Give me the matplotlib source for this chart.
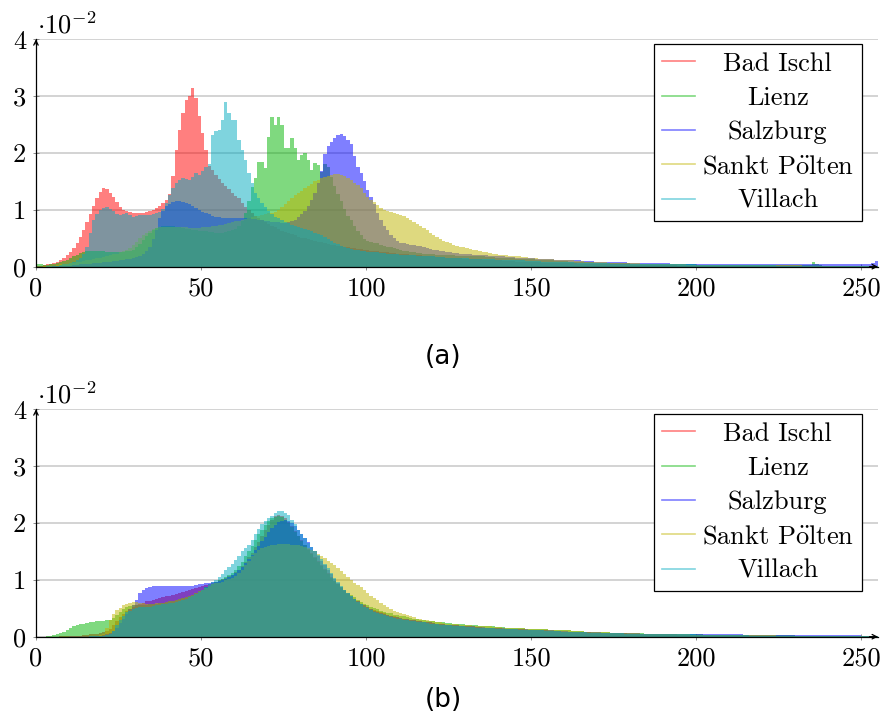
import numpy as np
import matplotlib.pyplot as plt
from matplotlib.lines import Line2D

plt.rcParams['font.family'] = ['cmr10', 'DejaVu Serif']
plt.rcParams['mathtext.fontset'] = 'cm'
plt.rcParams['axes.formatter.use_mathtext'] = True

# legend names, colours (drawn with 50 % opacity)
cities = ["Bad Ischl", "Lienz", "Salzburg", r"Sankt P$\ddot{\mathrm{o}}$lten", "Villach"]
colors = ["#ff0000", "#00b400", "#0000ff", "#bfb400", "#00aabf"]

# grey value histograms, 256 bins (0..255), in units of 1e-2
# (a) original images
bad_ischl_a = [
    0.02, 0.02, 0.03, 0.04, 0.05, 0.07, 0.09, 0.12, 0.16, 0.21, 0.26, 0.33, 0.42, 0.52, 0.65, 0.78,
    0.92, 1.06, 1.20, 1.32, 1.38, 1.36, 1.30, 1.23, 1.14, 1.05, 1.00, 0.98, 0.97, 0.95, 0.94, 0.94,
    0.95, 0.96, 0.98, 1.00, 1.03, 1.07, 1.12, 1.18, 1.28, 1.60, 2.05, 2.40, 2.70, 2.94, 3.00, 3.14,
    2.97, 2.65, 2.35, 2.05, 1.78, 1.70, 1.62, 1.55, 1.48, 1.42, 1.36, 1.30, 1.25, 1.20, 1.12, 1.05,
    1.00, 0.95, 0.90, 0.86, 0.82, 0.78, 0.75, 0.72, 0.69, 0.66, 0.63, 0.61, 0.59, 0.57, 0.55, 0.53,
    0.51, 0.50, 0.48, 0.47, 0.45, 0.44, 0.43, 0.41, 0.40, 0.39, 0.38, 0.37, 0.36, 0.35, 0.34, 0.33,
    0.32, 0.31, 0.31, 0.30, 0.29, 0.28, 0.28, 0.27, 0.26, 0.26, 0.25, 0.24, 0.24, 0.23, 0.23, 0.22,
    0.22, 0.21, 0.21, 0.20, 0.20, 0.19, 0.19, 0.18, 0.18, 0.17, 0.17, 0.17, 0.16, 0.16, 0.15, 0.15,
    0.15, 0.14, 0.14, 0.14, 0.13, 0.13, 0.13, 0.12, 0.12, 0.12, 0.11, 0.11, 0.11, 0.10, 0.10, 0.10,
    0.10, 0.09, 0.09, 0.09, 0.09, 0.08, 0.08, 0.08, 0.08, 0.07, 0.07, 0.07, 0.07, 0.07, 0.06, 0.06,
    0.06, 0.06, 0.06, 0.06, 0.05, 0.05, 0.05, 0.05, 0.05, 0.05, 0.05, 0.04, 0.04, 0.04, 0.04, 0.04,
    0.04, 0.04, 0.04, 0.04, 0.03, 0.03, 0.03, 0.03, 0.03, 0.03, 0.03, 0.03, 0.03, 0.03, 0.03, 0.03,
    0.03, 0.03, 0.02, 0.02, 0.02, 0.02, 0.02, 0.02, 0.02, 0.02, 0.02, 0.02, 0.02, 0.02, 0.02, 0.02,
    0.02, 0.02, 0.02, 0.02, 0.02, 0.02, 0.02, 0.02, 0.02, 0.02, 0.02, 0.02, 0.02, 0.02, 0.02, 0.02,
    0.02, 0.02, 0.02, 0.02, 0.02, 0.02, 0.01, 0.01, 0.01, 0.01, 0.01, 0.01, 0.01, 0.01, 0.01, 0.01,
    0.01, 0.01, 0.01, 0.01, 0.01, 0.01, 0.01, 0.01, 0.01, 0.01, 0.01, 0.01, 0.01, 0.01, 0.01, 0.01,
]
lienz_a = [
    0.05, 0.04, 0.03, 0.03, 0.04, 0.05, 0.06, 0.08, 0.10, 0.12, 0.15, 0.18, 0.21, 0.24, 0.26, 0.27,
    0.27, 0.27, 0.27, 0.27, 0.27, 0.26, 0.26, 0.26, 0.26, 0.26, 0.26, 0.27, 0.28, 0.30, 0.34, 0.40,
    0.47, 0.54, 0.60, 0.65, 0.68, 0.70, 0.71, 0.72, 0.72, 0.71, 0.70, 0.69, 0.68, 0.67, 0.66, 0.65,
    0.64, 0.63, 0.62, 0.62, 0.61, 0.61, 0.60, 0.60, 0.60, 0.61, 0.62, 0.64, 0.67, 0.72, 0.80, 0.95,
    1.15, 1.40, 1.56, 1.84, 1.84, 1.74, 2.29, 2.64, 2.50, 2.64, 2.50, 2.09, 2.09, 2.26, 2.09, 1.88,
    1.97, 2.00, 1.88, 1.70, 1.82, 1.79, 1.67, 1.80, 1.75, 1.58, 1.42, 1.28, 1.15, 1.02, 0.90, 0.82,
    0.72, 0.63, 0.55, 0.48, 0.45, 0.43, 0.42, 0.41, 0.39, 0.37, 0.35, 0.34, 0.32, 0.31, 0.29, 0.28,
    0.27, 0.26, 0.25, 0.24, 0.24, 0.23, 0.23, 0.22, 0.22, 0.21, 0.21, 0.21, 0.20, 0.20, 0.20, 0.19,
    0.19, 0.19, 0.19, 0.18, 0.18, 0.18, 0.18, 0.18, 0.17, 0.17, 0.17, 0.16, 0.16, 0.16, 0.15, 0.15,
    0.15, 0.14, 0.14, 0.14, 0.13, 0.13, 0.13, 0.12, 0.12, 0.12, 0.11, 0.11, 0.11, 0.10, 0.10, 0.10,
    0.10, 0.09, 0.09, 0.09, 0.09, 0.08, 0.08, 0.08, 0.08, 0.07, 0.07, 0.07, 0.07, 0.07, 0.06, 0.06,
    0.06, 0.06, 0.06, 0.06, 0.05, 0.05, 0.05, 0.05, 0.05, 0.05, 0.05, 0.05, 0.04, 0.04, 0.04, 0.04,
    0.04, 0.04, 0.04, 0.04, 0.04, 0.04, 0.04, 0.04, 0.03, 0.03, 0.03, 0.03, 0.03, 0.03, 0.03, 0.03,
    0.03, 0.03, 0.03, 0.03, 0.03, 0.03, 0.03, 0.03, 0.03, 0.03, 0.03, 0.03, 0.03, 0.03, 0.03, 0.03,
    0.03, 0.03, 0.03, 0.03, 0.03, 0.03, 0.03, 0.03, 0.03, 0.03, 0.03, 0.09, 0.05, 0.03, 0.02, 0.02,
    0.02, 0.02, 0.02, 0.02, 0.02, 0.02, 0.02, 0.02, 0.02, 0.02, 0.02, 0.02, 0.02, 0.02, 0.02, 0.02,
]
salzburg_a = [
    0.00, 0.00, 0.00, 0.00, 0.00, 0.01, 0.01, 0.01, 0.02, 0.02, 0.02, 0.03, 0.03, 0.04, 0.04, 0.05,
    0.05, 0.06, 0.06, 0.07, 0.08, 0.08, 0.09, 0.10, 0.10, 0.11, 0.12, 0.13, 0.14, 0.15, 0.17, 0.19,
    0.22, 0.27, 0.35, 0.48, 0.65, 0.85, 0.98, 1.06, 1.10, 1.13, 1.15, 1.15, 1.14, 1.12, 1.10, 1.07,
    1.04, 1.00, 0.97, 0.94, 0.92, 0.90, 0.88, 0.87, 0.86, 0.86, 0.86, 0.86, 0.86, 0.86, 0.86, 0.85,
    0.85, 0.84, 0.84, 0.83, 0.82, 0.81, 0.80, 0.79, 0.78, 0.78, 0.77, 0.77, 0.78, 0.80, 0.83, 0.87,
    0.92, 0.98, 1.06, 1.17, 1.30, 1.48, 1.68, 1.98, 2.12, 2.20, 2.26, 2.31, 2.33, 2.30, 2.22, 2.15,
    1.94, 1.76, 1.64, 1.50, 1.35, 1.23, 1.10, 0.94, 0.82, 0.72, 0.64, 0.56, 0.50, 0.45, 0.42, 0.41,
    0.40, 0.39, 0.38, 0.37, 0.36, 0.34, 0.33, 0.31, 0.30, 0.29, 0.28, 0.27, 0.26, 0.25, 0.24, 0.24,
    0.23, 0.23, 0.22, 0.22, 0.21, 0.21, 0.20, 0.20, 0.20, 0.19, 0.19, 0.18, 0.18, 0.18, 0.17, 0.17,
    0.17, 0.16, 0.16, 0.16, 0.15, 0.15, 0.15, 0.14, 0.14, 0.14, 0.13, 0.13, 0.13, 0.12, 0.12, 0.12,
    0.12, 0.11, 0.11, 0.11, 0.11, 0.10, 0.10, 0.10, 0.10, 0.09, 0.09, 0.09, 0.09, 0.09, 0.08, 0.08,
    0.08, 0.08, 0.08, 0.07, 0.07, 0.07, 0.07, 0.07, 0.07, 0.06, 0.06, 0.06, 0.06, 0.06, 0.06, 0.06,
    0.05, 0.05, 0.05, 0.05, 0.05, 0.05, 0.05, 0.05, 0.05, 0.05, 0.05, 0.05, 0.05, 0.05, 0.05, 0.05,
    0.05, 0.05, 0.05, 0.05, 0.05, 0.05, 0.05, 0.05, 0.04, 0.04, 0.04, 0.04, 0.04, 0.04, 0.04, 0.04,
    0.04, 0.04, 0.04, 0.04, 0.04, 0.04, 0.04, 0.04, 0.04, 0.04, 0.04, 0.04, 0.04, 0.04, 0.04, 0.04,
    0.04, 0.04, 0.04, 0.04, 0.04, 0.04, 0.04, 0.04, 0.04, 0.04, 0.04, 0.04, 0.05, 0.06, 0.10, 0.08,
]
sankt_poelten_a = [
    0.00, 0.00, 0.01, 0.01, 0.02, 0.02, 0.03, 0.04, 0.05, 0.05, 0.06, 0.07, 0.08, 0.09, 0.10, 0.11,
    0.12, 0.13, 0.15, 0.16, 0.17, 0.19, 0.20, 0.22, 0.23, 0.25, 0.27, 0.30, 0.33, 0.38, 0.44, 0.50,
    0.55, 0.60, 0.63, 0.66, 0.68, 0.69, 0.70, 0.70, 0.70, 0.70, 0.70, 0.70, 0.69, 0.69, 0.68, 0.68,
    0.68, 0.68, 0.69, 0.69, 0.70, 0.71, 0.72, 0.73, 0.74, 0.75, 0.77, 0.78, 0.80, 0.81, 0.83, 0.84,
    0.86, 0.87, 0.89, 0.90, 0.91, 0.93, 0.94, 0.95, 0.97, 1.00, 1.05, 1.10, 1.16, 1.21, 1.26, 1.30,
    1.34, 1.38, 1.42, 1.46, 1.50, 1.53, 1.56, 1.58, 1.60, 1.62, 1.63, 1.63, 1.61, 1.59, 1.56, 1.53,
    1.48, 1.43, 1.38, 1.30, 1.23, 1.18, 1.14, 1.09, 1.04, 1.00, 0.98, 0.96, 0.94, 0.93, 0.91, 0.89,
    0.86, 0.83, 0.79, 0.75, 0.72, 0.68, 0.64, 0.60, 0.55, 0.52, 0.49, 0.46, 0.43, 0.41, 0.39, 0.37,
    0.35, 0.34, 0.32, 0.31, 0.30, 0.29, 0.27, 0.26, 0.25, 0.24, 0.23, 0.22, 0.21, 0.21, 0.20, 0.19,
    0.19, 0.18, 0.18, 0.17, 0.17, 0.16, 0.15, 0.15, 0.14, 0.14, 0.13, 0.13, 0.13, 0.12, 0.12, 0.12,
    0.11, 0.11, 0.11, 0.10, 0.10, 0.10, 0.09, 0.09, 0.09, 0.08, 0.08, 0.08, 0.08, 0.07, 0.07, 0.07,
    0.07, 0.07, 0.06, 0.06, 0.06, 0.06, 0.06, 0.05, 0.05, 0.05, 0.05, 0.05, 0.05, 0.04, 0.04, 0.04,
    0.04, 0.04, 0.04, 0.04, 0.04, 0.03, 0.03, 0.03, 0.03, 0.03, 0.03, 0.03, 0.03, 0.03, 0.03, 0.03,
    0.03, 0.03, 0.03, 0.03, 0.03, 0.03, 0.03, 0.03, 0.03, 0.03, 0.03, 0.03, 0.03, 0.03, 0.03, 0.03,
    0.03, 0.03, 0.03, 0.03, 0.03, 0.03, 0.03, 0.03, 0.02, 0.02, 0.02, 0.02, 0.02, 0.02, 0.02, 0.02,
    0.02, 0.02, 0.02, 0.02, 0.02, 0.02, 0.02, 0.02, 0.02, 0.02, 0.02, 0.02, 0.02, 0.02, 0.02, 0.02,
]
villach_a = [
    0.00, 0.00, 0.00, 0.01, 0.01, 0.02, 0.02, 0.03, 0.04, 0.05, 0.07, 0.09, 0.12, 0.16, 0.22, 0.35,
    0.60, 0.82, 0.92, 1.00, 1.04, 1.05, 1.02, 0.98, 0.93, 0.91, 0.93, 0.94, 0.91, 0.88, 0.89, 0.91,
    0.91, 0.91, 0.91, 0.92, 0.94, 0.97, 1.02, 1.12, 1.26, 1.38, 1.47, 1.52, 1.56, 1.55, 1.53, 1.58,
    1.65, 1.62, 1.68, 1.76, 1.80, 2.32, 2.38, 2.41, 2.58, 2.90, 2.70, 2.58, 2.58, 2.23, 2.05, 1.88,
    1.64, 1.47, 1.30, 1.20, 1.12, 1.05, 0.98, 0.92, 0.88, 0.85, 0.82, 0.79, 0.76, 0.74, 0.72, 0.70,
    0.68, 0.66, 0.64, 0.62, 0.60, 0.58, 0.56, 0.53, 0.48, 0.45, 0.42, 0.40, 0.37, 0.35, 0.33, 0.31,
    0.30, 0.29, 0.28, 0.27, 0.26, 0.26, 0.25, 0.25, 0.24, 0.24, 0.23, 0.23, 0.22, 0.22, 0.21, 0.21,
    0.20, 0.20, 0.20, 0.19, 0.19, 0.19, 0.18, 0.18, 0.18, 0.17, 0.17, 0.17, 0.16, 0.16, 0.16, 0.15,
    0.15, 0.15, 0.15, 0.14, 0.14, 0.14, 0.14, 0.13, 0.13, 0.13, 0.13, 0.12, 0.12, 0.12, 0.12, 0.11,
    0.11, 0.11, 0.11, 0.11, 0.10, 0.10, 0.10, 0.10, 0.10, 0.09, 0.09, 0.09, 0.09, 0.09, 0.08, 0.08,
    0.08, 0.08, 0.08, 0.07, 0.07, 0.07, 0.07, 0.07, 0.06, 0.06, 0.06, 0.06, 0.06, 0.06, 0.05, 0.05,
    0.05, 0.05, 0.05, 0.05, 0.05, 0.05, 0.05, 0.05, 0.05, 0.05, 0.04, 0.04, 0.04, 0.04, 0.04, 0.04,
    0.04, 0.04, 0.04, 0.04, 0.04, 0.04, 0.04, 0.04, 0.03, 0.03, 0.03, 0.03, 0.03, 0.03, 0.03, 0.03,
    0.03, 0.03, 0.03, 0.03, 0.03, 0.03, 0.03, 0.03, 0.03, 0.03, 0.03, 0.03, 0.03, 0.03, 0.03, 0.03,
    0.02, 0.02, 0.02, 0.02, 0.02, 0.02, 0.02, 0.02, 0.02, 0.02, 0.02, 0.02, 0.02, 0.02, 0.02, 0.02,
    0.02, 0.02, 0.02, 0.02, 0.02, 0.02, 0.02, 0.02, 0.01, 0.01, 0.01, 0.01, 0.01, 0.01, 0.01, 0.01,
]

# (b) normalised images
bad_ischl_b = [
    0.00, 0.00, 0.00, 0.00, 0.00, 0.00, 0.00, 0.01, 0.01, 0.01, 0.01, 0.02, 0.02, 0.02, 0.03, 0.03,
    0.04, 0.04, 0.05, 0.06, 0.08, 0.10, 0.14, 0.20, 0.27, 0.34, 0.40, 0.45, 0.49, 0.52, 0.55, 0.57,
    0.60, 0.62, 0.63, 0.65, 0.66, 0.68, 0.69, 0.71, 0.72, 0.74, 0.75, 0.77, 0.78, 0.80, 0.82, 0.84,
    0.86, 0.88, 0.89, 0.91, 0.93, 0.95, 0.97, 0.99, 1.01, 1.03, 1.06, 1.09, 1.13, 1.18, 1.25, 1.32,
    1.40, 1.48, 1.57, 1.67, 1.77, 1.87, 1.96, 2.05, 2.12, 2.14, 2.12, 2.08, 2.02, 1.94, 1.86, 1.78,
    1.70, 1.62, 1.54, 1.47, 1.40, 1.33, 1.26, 1.19, 1.12, 1.05, 0.98, 0.92, 0.86, 0.80, 0.75, 0.70,
    0.66, 0.62, 0.58, 0.55, 0.52, 0.49, 0.47, 0.45, 0.43, 0.41, 0.39, 0.37, 0.36, 0.34, 0.33, 0.32,
    0.31, 0.30, 0.29, 0.28, 0.27, 0.26, 0.25, 0.25, 0.24, 0.23, 0.23, 0.22, 0.21, 0.21, 0.20, 0.20,
    0.19, 0.19, 0.18, 0.18, 0.18, 0.17, 0.17, 0.16, 0.16, 0.16, 0.15, 0.15, 0.15, 0.14, 0.14, 0.14,
    0.13, 0.13, 0.13, 0.13, 0.12, 0.12, 0.12, 0.11, 0.11, 0.11, 0.11, 0.10, 0.10, 0.10, 0.10, 0.09,
    0.09, 0.09, 0.09, 0.08, 0.08, 0.08, 0.08, 0.08, 0.07, 0.07, 0.07, 0.07, 0.07, 0.06, 0.06, 0.06,
    0.06, 0.06, 0.06, 0.05, 0.05, 0.05, 0.05, 0.05, 0.05, 0.05, 0.04, 0.04, 0.04, 0.04, 0.04, 0.04,
    0.04, 0.04, 0.03, 0.03, 0.03, 0.03, 0.03, 0.03, 0.03, 0.03, 0.03, 0.03, 0.03, 0.03, 0.03, 0.03,
    0.03, 0.03, 0.03, 0.03, 0.03, 0.03, 0.03, 0.03, 0.02, 0.02, 0.02, 0.02, 0.02, 0.02, 0.02, 0.02,
    0.02, 0.02, 0.02, 0.02, 0.02, 0.02, 0.02, 0.02, 0.02, 0.02, 0.02, 0.02, 0.02, 0.02, 0.02, 0.02,
    0.02, 0.02, 0.02, 0.02, 0.02, 0.02, 0.02, 0.02, 0.01, 0.01, 0.01, 0.01, 0.01, 0.01, 0.01, 0.01,
]
lienz_b = [
    0.00, 0.00, 0.00, 0.01, 0.02, 0.03, 0.05, 0.07, 0.09, 0.12, 0.15, 0.18, 0.20, 0.22, 0.23, 0.24,
    0.25, 0.26, 0.27, 0.27, 0.28, 0.29, 0.30, 0.33, 0.38, 0.44, 0.49, 0.52, 0.54, 0.55, 0.55, 0.56,
    0.56, 0.56, 0.57, 0.58, 0.58, 0.59, 0.60, 0.61, 0.62, 0.63, 0.64, 0.66, 0.68, 0.70, 0.72, 0.74,
    0.77, 0.80, 0.83, 0.87, 0.90, 0.93, 0.96, 0.99, 1.02, 1.05, 1.08, 1.12, 1.17, 1.24, 1.32, 1.42,
    1.50, 1.60, 1.70, 1.80, 1.88, 1.96, 2.03, 2.08, 2.11, 2.12, 2.10, 2.06, 2.00, 1.93, 1.85, 1.77,
    1.69, 1.61, 1.53, 1.46, 1.39, 1.32, 1.25, 1.18, 1.11, 1.04, 0.98, 0.92, 0.87, 0.82, 0.77, 0.73,
    0.69, 0.65, 0.61, 0.58, 0.55, 0.52, 0.50, 0.48, 0.46, 0.44, 0.42, 0.41, 0.39, 0.38, 0.37, 0.36,
    0.34, 0.33, 0.32, 0.31, 0.30, 0.29, 0.28, 0.28, 0.27, 0.26, 0.26, 0.25, 0.24, 0.24, 0.23, 0.23,
    0.22, 0.22, 0.21, 0.21, 0.20, 0.20, 0.19, 0.19, 0.19, 0.18, 0.18, 0.17, 0.17, 0.17, 0.16, 0.16,
    0.16, 0.15, 0.15, 0.15, 0.14, 0.14, 0.14, 0.13, 0.13, 0.13, 0.13, 0.12, 0.12, 0.12, 0.11, 0.11,
    0.11, 0.11, 0.10, 0.10, 0.10, 0.10, 0.09, 0.09, 0.09, 0.09, 0.08, 0.08, 0.08, 0.08, 0.07, 0.07,
    0.07, 0.07, 0.07, 0.06, 0.06, 0.06, 0.06, 0.06, 0.05, 0.05, 0.05, 0.05, 0.05, 0.05, 0.04, 0.04,
    0.04, 0.04, 0.04, 0.04, 0.04, 0.04, 0.04, 0.04, 0.04, 0.04, 0.03, 0.03, 0.03, 0.03, 0.03, 0.03,
    0.03, 0.03, 0.03, 0.03, 0.03, 0.03, 0.03, 0.03, 0.03, 0.03, 0.03, 0.03, 0.03, 0.03, 0.03, 0.03,
    0.03, 0.03, 0.03, 0.03, 0.03, 0.03, 0.02, 0.02, 0.02, 0.02, 0.02, 0.02, 0.02, 0.02, 0.02, 0.02,
    0.02, 0.02, 0.02, 0.02, 0.02, 0.02, 0.02, 0.02, 0.02, 0.02, 0.02, 0.02, 0.02, 0.02, 0.02, 0.02,
]
salzburg_b = [
    0.00, 0.00, 0.00, 0.00, 0.00, 0.00, 0.00, 0.00, 0.00, 0.00, 0.01, 0.01, 0.01, 0.01, 0.01, 0.01,
    0.01, 0.01, 0.02, 0.02, 0.03, 0.04, 0.06, 0.10, 0.16, 0.24, 0.32, 0.40, 0.48, 0.55, 0.64, 0.76,
    0.82, 0.86, 0.88, 0.89, 0.90, 0.90, 0.90, 0.90, 0.89, 0.89, 0.89, 0.89, 0.89, 0.89, 0.90, 0.90,
    0.91, 0.92, 0.93, 0.94, 0.95, 0.96, 0.97, 0.98, 1.00, 1.02, 1.05, 1.08, 1.12, 1.17, 1.23, 1.30,
    1.37, 1.44, 1.52, 1.60, 1.68, 1.76, 1.84, 1.91, 1.97, 2.01, 2.04, 2.05, 2.04, 2.00, 1.94, 1.88,
    1.81, 1.74, 1.66, 1.58, 1.50, 1.42, 1.34, 1.26, 1.18, 1.10, 1.02, 0.95, 0.88, 0.82, 0.76, 0.71,
    0.66, 0.62, 0.58, 0.55, 0.52, 0.49, 0.46, 0.44, 0.42, 0.40, 0.38, 0.37, 0.35, 0.34, 0.33, 0.32,
    0.31, 0.30, 0.29, 0.28, 0.27, 0.26, 0.25, 0.25, 0.24, 0.23, 0.23, 0.22, 0.21, 0.21, 0.20, 0.20,
    0.19, 0.19, 0.18, 0.18, 0.18, 0.17, 0.17, 0.17, 0.16, 0.16, 0.16, 0.15, 0.15, 0.15, 0.14, 0.14,
    0.14, 0.13, 0.13, 0.13, 0.13, 0.12, 0.12, 0.12, 0.12, 0.11, 0.11, 0.11, 0.11, 0.10, 0.10, 0.10,
    0.10, 0.09, 0.09, 0.09, 0.09, 0.09, 0.08, 0.08, 0.08, 0.08, 0.08, 0.07, 0.07, 0.07, 0.07, 0.07,
    0.07, 0.06, 0.06, 0.06, 0.06, 0.06, 0.06, 0.05, 0.05, 0.05, 0.05, 0.05, 0.05, 0.05, 0.05, 0.04,
    0.04, 0.04, 0.04, 0.04, 0.04, 0.04, 0.04, 0.04, 0.04, 0.04, 0.04, 0.04, 0.04, 0.04, 0.04, 0.04,
    0.04, 0.04, 0.04, 0.04, 0.04, 0.04, 0.03, 0.03, 0.03, 0.03, 0.03, 0.03, 0.03, 0.03, 0.03, 0.03,
    0.03, 0.03, 0.03, 0.03, 0.03, 0.03, 0.03, 0.03, 0.03, 0.03, 0.03, 0.03, 0.03, 0.03, 0.03, 0.03,
    0.03, 0.03, 0.03, 0.03, 0.03, 0.03, 0.03, 0.03, 0.03, 0.03, 0.02, 0.02, 0.02, 0.02, 0.02, 0.02,
]
sankt_poelten_b = [
    0.00, 0.00, 0.00, 0.00, 0.00, 0.00, 0.00, 0.00, 0.00, 0.00, 0.01, 0.01, 0.01, 0.01, 0.01, 0.01,
    0.01, 0.01, 0.02, 0.03, 0.05, 0.15, 0.30, 0.40, 0.47, 0.51, 0.55, 0.58, 0.60, 0.61, 0.61, 0.60,
    0.59, 0.58, 0.58, 0.58, 0.59, 0.59, 0.60, 0.61, 0.62, 0.63, 0.64, 0.66, 0.68, 0.70, 0.72, 0.74,
    0.77, 0.80, 0.83, 0.86, 0.89, 0.92, 0.94, 0.95, 0.97, 0.99, 1.01, 1.04, 1.07, 1.12, 1.18, 1.26,
    1.34, 1.42, 1.48, 1.53, 1.56, 1.58, 1.60, 1.61, 1.62, 1.63, 1.63, 1.63, 1.63, 1.62, 1.62, 1.61,
    1.60, 1.58, 1.56, 1.53, 1.50, 1.46, 1.42, 1.38, 1.34, 1.30, 1.26, 1.20, 1.15, 1.10, 1.05, 1.00,
    0.95, 0.91, 0.87, 0.82, 0.77, 0.72, 0.68, 0.64, 0.60, 0.56, 0.52, 0.49, 0.46, 0.44, 0.42, 0.40,
    0.38, 0.36, 0.34, 0.32, 0.31, 0.30, 0.29, 0.28, 0.27, 0.26, 0.25, 0.24, 0.23, 0.23, 0.22, 0.22,
    0.21, 0.21, 0.20, 0.20, 0.19, 0.19, 0.19, 0.18, 0.18, 0.18, 0.17, 0.17, 0.17, 0.16, 0.16, 0.16,
    0.15, 0.15, 0.15, 0.15, 0.14, 0.14, 0.14, 0.13, 0.13, 0.13, 0.13, 0.12, 0.12, 0.12, 0.12, 0.11,
    0.11, 0.11, 0.10, 0.10, 0.10, 0.10, 0.09, 0.09, 0.09, 0.09, 0.08, 0.08, 0.08, 0.08, 0.07, 0.07,
    0.07, 0.07, 0.06, 0.06, 0.06, 0.06, 0.06, 0.05, 0.05, 0.05, 0.05, 0.05, 0.04, 0.04, 0.04, 0.04,
    0.04, 0.04, 0.04, 0.04, 0.04, 0.04, 0.03, 0.03, 0.03, 0.03, 0.03, 0.03, 0.03, 0.03, 0.03, 0.03,
    0.03, 0.03, 0.03, 0.03, 0.03, 0.03, 0.03, 0.03, 0.03, 0.03, 0.03, 0.03, 0.03, 0.03, 0.03, 0.03,
    0.02, 0.02, 0.02, 0.02, 0.02, 0.02, 0.02, 0.02, 0.02, 0.02, 0.02, 0.02, 0.02, 0.02, 0.02, 0.02,
    0.02, 0.02, 0.02, 0.02, 0.02, 0.02, 0.02, 0.02, 0.01, 0.01, 0.01, 0.01, 0.01, 0.01, 0.01, 0.01,
]
villach_b = [
    0.00, 0.00, 0.00, 0.00, 0.00, 0.00, 0.00, 0.00, 0.00, 0.00, 0.00, 0.00, 0.00, 0.00, 0.00, 0.00,
    0.01, 0.01, 0.01, 0.02, 0.02, 0.03, 0.05, 0.10, 0.20, 0.30, 0.37, 0.43, 0.46, 0.49, 0.50, 0.52,
    0.52, 0.53, 0.53, 0.54, 0.55, 0.56, 0.57, 0.58, 0.59, 0.60, 0.61, 0.63, 0.65, 0.67, 0.69, 0.72,
    0.75, 0.79, 0.83, 0.87, 0.92, 0.96, 1.00, 1.05, 1.11, 1.17, 1.22, 1.28, 1.35, 1.42, 1.50, 1.56,
    1.62, 1.70, 1.80, 1.89, 1.98, 2.04, 2.08, 2.13, 2.18, 2.22, 2.22, 2.18, 2.14, 2.05, 1.98, 1.88,
    1.80, 1.73, 1.65, 1.58, 1.51, 1.44, 1.36, 1.28, 1.20, 1.12, 1.04, 0.96, 0.89, 0.82, 0.76, 0.71,
    0.66, 0.61, 0.57, 0.53, 0.50, 0.47, 0.44, 0.42, 0.40, 0.38, 0.36, 0.35, 0.33, 0.32, 0.31, 0.30,
    0.29, 0.28, 0.27, 0.26, 0.25, 0.25, 0.24, 0.23, 0.23, 0.22, 0.21, 0.21, 0.20, 0.20, 0.19, 0.19,
    0.18, 0.18, 0.17, 0.17, 0.17, 0.16, 0.16, 0.16, 0.15, 0.15, 0.15, 0.14, 0.14, 0.14, 0.13, 0.13,
    0.13, 0.13, 0.12, 0.12, 0.12, 0.12, 0.11, 0.11, 0.11, 0.11, 0.10, 0.10, 0.10, 0.10, 0.10, 0.09,
    0.09, 0.09, 0.09, 0.08, 0.08, 0.08, 0.08, 0.07, 0.07, 0.07, 0.07, 0.07, 0.06, 0.06, 0.06, 0.06,
    0.06, 0.06, 0.05, 0.05, 0.05, 0.05, 0.05, 0.05, 0.05, 0.05, 0.05, 0.05, 0.04, 0.04, 0.04, 0.04,
    0.04, 0.04, 0.04, 0.04, 0.04, 0.04, 0.04, 0.04, 0.03, 0.03, 0.03, 0.03, 0.03, 0.03, 0.03, 0.03,
    0.03, 0.03, 0.03, 0.03, 0.03, 0.03, 0.03, 0.03, 0.02, 0.02, 0.02, 0.02, 0.02, 0.02, 0.02, 0.02,
    0.02, 0.02, 0.02, 0.02, 0.02, 0.02, 0.02, 0.02, 0.02, 0.02, 0.02, 0.02, 0.02, 0.02, 0.02, 0.02,
    0.02, 0.02, 0.02, 0.02, 0.01, 0.01, 0.01, 0.01, 0.01, 0.01, 0.01, 0.01, 0.01, 0.01, 0.01, 0.01,
]

panel_a = [bad_ischl_a, lienz_a, salzburg_a, sankt_poelten_a, villach_a]
panel_b = [bad_ischl_b, lienz_b, salzburg_b, sankt_poelten_b, villach_b]

FS = 19


def draw_panel(ax, series):
    edges = np.arange(257)
    for vals, col in zip(series, colors):
        ax.stairs(vals, edges, fill=True, color=col, alpha=0.5, linewidth=0)

    ax.set_xlim(0, 255)
    ax.set_ylim(0, 4)
    ax.set_xticks([0, 50, 100, 150, 200, 250])
    ax.set_yticks([0, 1, 2, 3, 4])
    ax.set_xticklabels(["0", "50", "100", "150", "200", "250"])
    ax.set_yticklabels(["0", "1", "2", "3", "4"])
    ax.tick_params(axis='both', direction='inout', length=4, width=0.6,
                   color='#777777', labelsize=FS, labelcolor='black', pad=5)
    ax.yaxis.grid(True, color='#cccccc', linewidth=1.2)
    ax.set_axisbelow(True)
    for s in ['top', 'right']:
        ax.spines[s].set_visible(False)
    for s in ['left', 'bottom']:
        ax.spines[s].set_linewidth(0.9)

    arrow = dict(arrowstyle='->', lw=0.9, color='black', shrinkA=0, shrinkB=0,
                 mutation_scale=8)
    ax.annotate('', xy=(1.0, 0), xytext=(0.99, 0), xycoords='axes fraction', arrowprops=arrow)
    ax.annotate('', xy=(0, 1.0), xytext=(0, 0.98), xycoords='axes fraction', arrowprops=arrow)

    ax.annotate(r'$\cdot 10^{-2}$', xy=(0, 1), xycoords='axes fraction', xytext=(1, 4),
                textcoords='offset points', ha='left', va='baseline', fontsize=FS)

    handles = [Line2D([], [], color=c, alpha=0.5, lw=1.2) for c in colors]
    leg = ax.legend(handles, cities, loc='upper right', bbox_to_anchor=(0.9806, 0.9793),
                    borderaxespad=0, fontsize=FS, frameon=True, fancybox=False,
                    edgecolor='black', framealpha=1, handlelength=1.25,
                    handletextpad=0.25, borderpad=0.3, labelspacing=0.4)
    leg.get_frame().set_linewidth(0.9)
    return leg


fig = plt.figure(figsize=(8.86, 7.2), dpi=100)
ax_a = fig.add_axes([0.0406, 0.6296, 0.9503, 0.3158])
ax_b = fig.add_axes([0.0406, 0.1157, 0.9503, 0.3158])
legs = [draw_panel(ax_a, panel_a), draw_panel(ax_b, panel_b)]

fig.text(0.5, 0.504, '(a)', ha='center', va='center', fontsize=FS, family='DejaVu Sans')
fig.text(0.5, 0.028, '(b)', ha='center', va='center', fontsize=FS, family='DejaVu Sans')

# centre the legend labels like pgfplots does
fig.canvas.draw()
renderer = fig.canvas.get_renderer()
for leg in legs:
    texts = leg.get_texts()
    widths = [t.get_window_extent(renderer).width for t in texts]
    for t, w in zip(texts, widths):
        t.set_position(((max(widths) - w) / 2, 0))

fig.savefig('out.png', dpi=100)
